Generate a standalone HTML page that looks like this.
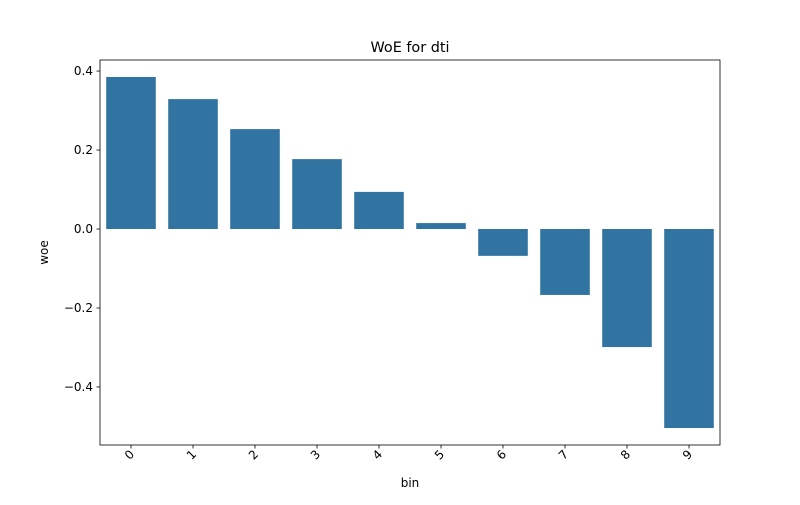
<!DOCTYPE html>
<html><head><meta charset="utf-8"><style>
body{margin:0;background:#fff;}
text{font-family:"DejaVu Sans","Liberation Sans",sans-serif;fill:#000;}
</style></head><body>
<svg id="chart" width="800" height="500" xmlns="http://www.w3.org/2000/svg">
<rect width="800" height="500" fill="#fff"/>
<text x="410" y="52" font-size="14.4" text-anchor="middle">WoE for dti</text>
<g id="bars"></g>
<g id="axes"></g>
<text x="410" y="487" font-size="12" text-anchor="middle">bin</text>
<text transform="translate(48,252.5) rotate(-90)" font-size="12" text-anchor="middle">woe</text>
</svg>
<script>
const categories=["0","1","2","3","4","5","6","7","8","9"];
const woeValues=[0.385,0.329,0.253,0.177,0.094,0.015,-0.068,-0.167,-0.299,-0.504];
const yTicks=[0.4,0.2,0.0,-0.2,-0.4];
const yTickLabels=["0.4","0.2","0.0","\u22120.2","\u22120.4"];
const L=100,R=720,T=60,B=445,yMin=-0.547,yMax=0.428;
const ns="http://www.w3.org/2000/svg";
const y=v=>T+(yMax-v)/(yMax-yMin)*(B-T);
const bw=(R-L)/categories.length;
const x=i=>L+bw*(i+0.5);
const bars=document.getElementById('bars'),axes=document.getElementById('axes');
function mk(tag,attrs,parent){const e=document.createElementNS(ns,tag);for(const k in attrs)e.setAttribute(k,attrs[k]);parent.appendChild(e);return e;}
woeValues.forEach((v,i)=>{
  const r=mk('rect',{x:x(i)-bw*0.4,y:Math.min(y(v),y(0)),width:bw*0.8,height:Math.abs(y(v)-y(0)),fill:'#3274a1'},bars);
  
  
});
const frame=mk('rect',{x:L,y:T,width:R-L,height:B-T,fill:'none',stroke:'#000','stroke-width':0.8},axes);


yTicks.forEach((v,i)=>{
  mk('line',{x1:L-3.5,x2:L,y1:y(v),y2:y(v),stroke:'#000','stroke-width':0.8},axes);
  const t=mk('text',{x:L-7,y:y(v)+4,'font-size':12,'text-anchor':'end'},axes);
  t.textContent=yTickLabels[i];
  
  
});
categories.forEach((c,i)=>{
  mk('line',{x1:x(i),x2:x(i),y1:B,y2:B+3.5,stroke:'#000','stroke-width':0.8},axes);
  const t=mk('text',{transform:`translate(${x(i)+4},${B+10}) rotate(-45)`,'font-size':12,'text-anchor':'end'},axes);
  t.textContent=c;
  
  
});
</script>
</body></html>
